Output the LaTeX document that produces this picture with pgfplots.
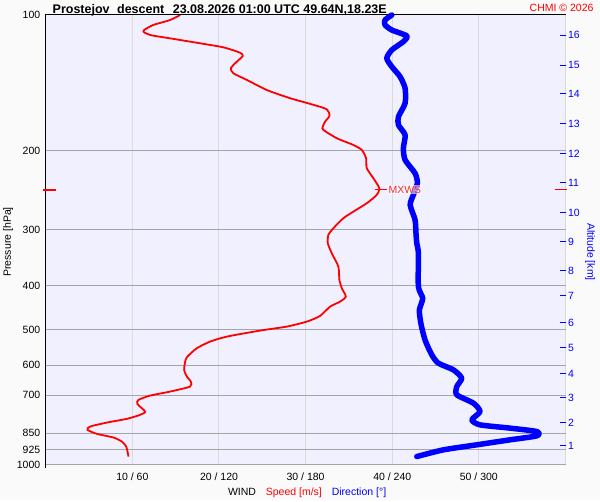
\documentclass[border=0pt]{standalone}
\usepackage{pgfplots}
\pgfplotsset{compat=1.18}
\usepackage{fontspec}
\setmainfont{Liberation Sans}
\definecolor{plotbg}{RGB}{240,240,255}
\definecolor{pagebg}{RGB}{250,250,250}
\definecolor{hgrid}{RGB}{165,165,165}
\definecolor{vgrid}{RGB}{218,218,218}
\newcommand{\nf}{\fontsize{10.5bp}{12bp}\selectfont}
\newcommand{\tf}{\fontsize{12.5bp}{14bp}\selectfont\bfseries}
\begin{document}
\begin{tikzpicture}[x=1bp,y=1bp]
\fill[pagebg] (0,0) rectangle (600,500);
\begin{axis}[
  at={(45.5bp,35bp)}, anchor=south west,
  scale only axis, width=520bp, height=450bp,
  xmin=0, xmax=60, ymin=100, ymax=1000,
  ymode=log, y dir=reverse,
  axis background/.style={fill=plotbg},
  axis line style={draw=none},
  xtick={10,20,30,40,50,60},
  xticklabels={10 / 60,20 / 120,30 / 180,40 / 240,50 / 300,{}},
  ytick={100,200,300,400,500,600,700,850,925,1000},
  yticklabels={100,200,300,400,500,600,700,850,925,1000},
  xmajorgrids, ymajorgrids,
  x grid style={vgrid, line width=1bp},
  y grid style={hgrid, line width=1bp},
  major tick length=0pt,
  tick label style={font=\nf},
  xticklabel style={yshift=-5bp},
  yticklabel style={xshift=-2bp},
  clip=false,
]
\addplot[red, line width=1.8bp, smooth, tension=0.4] coordinates {
(15.52,100) (14.36,102.6) (12.44,105.2) (11.48,107.6) (11.28,108.9) (12.06,110.8) (14.36,112.7) (17.83,115.6) (20.51,118.0) (22.44,121.3) (22.75,123.3) (22.06,127.0) (21.37,131.3) (21.67,134.8) (23.21,139.4) (25.52,146.8) (28.21,153.1) (30.52,157.6) (32.44,162.0) (32.75,167.6) (32.25,172.6) (31.98,177.1) (32.05,180.1) (33.60,187.9) (35.51,194.5) (36.48,199.5) (36.98,208.2) (37.06,219.1) (37.82,230.6) (38.51,242.7) (38.21,251.2) (37.06,262.1) (35.51,273.6) (34.36,283.0) (33.21,297.8) (32.63,308.2) (32.56,321.6) (33.02,338.5) (33.78,362.5) (33.90,388.1) (34.18,404.9) (34.64,422.7) (33.98,433.6) (32.83,444.9) (31.67,466.6) (30.14,480.4) (27.83,492.8) (24.75,503.0) (20.91,518.7) (18.98,532.1) (17.45,550.4) (16.33,575.4) (16.10,589.4) (15.98,614.9) (16.29,636.4) (16.75,653.0) (16.67,669.9) (14.36,687.3) (12.06,701.5) (10.71,717.2) (10.59,733.0) (11.48,761.4) (10.90,774.3) (9.37,790.3) (7.06,805.4) (5.13,822.0) (4.82,836.0) (5.91,853.3) (7.82,869.6) (8.79,887.6) (9.29,910.6) (9.48,941.9) (9.55,958.5)
};
\draw[black, line width=1bp] ([yshift=-3bp]axis cs:0,1000) -- (axis cs:0,100) -- (axis cs:60,100);
\draw[red, line width=1.2bp] ([xshift=-2.5bp]axis cs:0,244.8) -- ([xshift=10.5bp]axis cs:0,244.8);
\draw[red, line width=1bp] ([xshift=-10.5bp]axis cs:60,244.8) -- ([xshift=1.5bp]axis cs:60,244.8);
\end{axis}
\begin{axis}[
  at={(45.5bp,35bp)}, anchor=south west,
  scale only axis, width=520bp, height=450bp,
  xmin=0, xmax=360, ymin=100, ymax=1000,
  ymode=log, y dir=reverse,
  axis x line=none,
  axis y line*=right,
  y axis line style={draw=none},
  ytick={110.8,129.2,149.8,174.7,203.7,236.3,275.4,319.6,370.6,421.1,483.5,549.5,627.8,709.8,806.7,907.3},
  yticklabels={16,15,14,13,12,11,10,9,8,7,6,5,4,3,2,1},
  minor ytick={},
  ytick style={blue, line width=1bp},
  tick align=inside,
  major tick length=6bp,
  yticklabel style={font=\nf, text=blue, xshift=-1bp},
  clip=false,
]
\addplot[blue, line width=5.5bp, smooth, tension=0.4, line cap=round, line join=round] coordinates {
(239.7,100) (235.0,102.6) (235.0,105.2) (239.7,108.0) (250.1,111.3) (247.7,114.6) (239.7,119.6) (236.2,124.8) (239.7,130.3) (245.4,137.1) (248.9,145.5) (248.9,157.1) (244.3,168.3) (244.3,175.6) (248.9,184.8) (247.7,197.8) (248.9,210.0) (255.8,224.8) (257.4,236.6) (254.6,251.2) (252.4,264.4) (255.8,285.4) (256.5,308.2) (257.0,321.6) (258.1,338.5) (258.1,401.6) (261.1,426.3) (258.8,452.5) (259.8,484.3) (262.7,527.6) (267.4,569.6) (271.9,594.3) (282.3,614.9) (288.1,641.6) (284.7,669.9) (284.7,698.9) (296.2,729.3) (300.8,761.4) (295.1,794.3) (300.8,814.9) (321.6,828.7) (340.1,843.3) (340.1,862.1) (321.6,879.8) (298.5,902.6) (275.4,926.2) (257.0,958.5)
};
\draw[red, line width=1bp] ([xshift=-4bp]axis cs:231,244.8) -- ([xshift=8bp]axis cs:231,244.8)
  node[right, fill=white, fill opacity=0.6, text opacity=1, inner sep=0.8bp, text=red!85!white, font=\nf] {MXWS};
\end{axis}
\node[anchor=base west, font=\tf] at (49,486.5) {Prostejov\hspace{4bp} descent\hspace{5bp} 23.08.2026 01:00 UTC 49.64N,18.23E};
\node[anchor=base east, font=\nf, text=red] at (597,488) {CHMI © 2026};
\node[anchor=base, font=\nf] at (307,4) {WIND\hspace{7bp} \textcolor{red}{Speed [m/s]}\hspace{7bp} \textcolor{blue}{Direction [°]}};
\node[rotate=90, font=\nf] at (8,258) {Pressure [hPa]};
\node[rotate=-90, font=\nf, text=blue] at (590,248) {Altitude [km]};
\end{tikzpicture}
\end{document}
